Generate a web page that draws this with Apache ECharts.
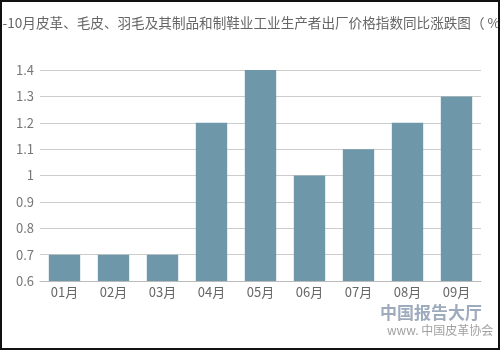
<!DOCTYPE html>
<html>
<head>
<meta charset="utf-8">
<script src="https://cdn.jsdelivr.net/npm/echarts@6/dist/echarts.min.js"></script>
<style>
html,body{margin:0;padding:0;background:#fff;}
#c{width:496px;height:346px;border:2px solid #111;}
</style>
</head>
<body>
<div id="c"></div>
<script>
const titleText = "1-10月皮革、毛皮、羽毛及其制品和制鞋业工业生产者出厂价格指数同比涨跌图（ %）";
const categories = ["01月","02月","03月","04月","05月","06月","07月","08月","09月"];
const values = [0.7, 0.7, 0.7, 1.2, 1.4, 1.0, 1.1, 1.2, 1.3];

const chart = echarts.init(document.getElementById('c'));
chart.setOption({
  animation: false,
  textStyle: {fontFamily: '"Noto Sans CJK SC", "Noto Sans", sans-serif'},
  graphic: [
    {type:'text', left:-7, top:14, style:{text:titleText, fill:'#666', font:'13.6px "Noto Sans CJK SC"'}},
    {type:'text', left:378, top:302, style:{text:'中国报告大厅', fill:'#7d8fa6', font:'bold 17px "Noto Sans CJK SC"', opacity:0.75}},
    {type:'text', left:385, top:322, style:{text:'www. 中国皮革协会', fill:'#8a8a8a', font:'12px "Noto Sans CJK SC"', opacity:0.8}}
  ],
  grid: {left: 38, right: 17, top: 68, bottom: 67},
  xAxis: {
    type: 'category',
    data: categories,
    axisLine: {lineStyle: {color: '#bbb'}},
    axisTick: {show: false},
    axisLabel: {color: '#666', fontSize: 13, margin: 5}
  },
  yAxis: {
    type: 'value',
    min: 0.6, max: 1.4, interval: 0.1,
    axisLine: {show: false},
    axisTick: {show: false},
    splitLine: {lineStyle: {color: '#ccc'}},
    axisLabel: {color: '#777', fontSize: 13, margin: 6}
  },
  series: [{
    type: 'bar',
    data: values,
    barWidth: '64%',
    itemStyle: {color: '#6f97aa'}
  }]
});
</script>
</body>
</html>
